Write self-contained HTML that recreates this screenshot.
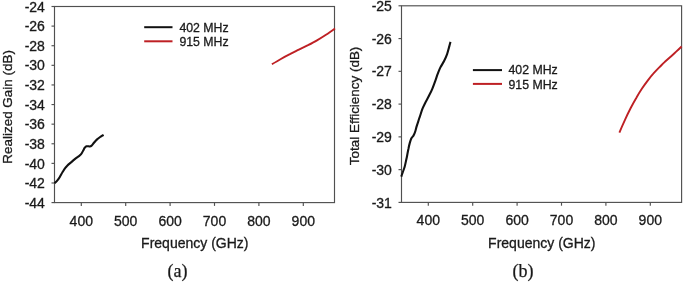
<!DOCTYPE html>
<html lang="en"><head><meta charset="utf-8"><title>Realized gain and total efficiency</title>
<style>
html,body{margin:0;padding:0;background:#fff;}
body{width:685px;height:282px;overflow:hidden;}
svg{display:block;}
.t{font-family:"Liberation Sans",Arial,sans-serif;fill:#1a1a1a;stroke:#1a1a1a;stroke-width:0.3px;}
.c{font-family:"Liberation Serif","Times New Roman",serif;fill:#1a1a1a;stroke:#1a1a1a;stroke-width:0.25px;}
</style></head><body>
<svg width="685" height="282" viewBox="0 0 685 282">
<rect width="685" height="282" fill="#fff"/>
<g>
<rect x="54.5" y="6.5" width="280.0" height="196.1" fill="none" stroke="#505050" stroke-width="1.15"/>
<line x1="51.5" x2="54.5" y1="6.50" y2="6.50" stroke="#505050" stroke-width="1.15"/>
<text class="t" x="44.9" y="11.65" font-size="14" text-anchor="end">-24</text>
<line x1="51.5" x2="54.5" y1="26.11" y2="26.11" stroke="#505050" stroke-width="1.15"/>
<text class="t" x="44.9" y="31.26" font-size="14" text-anchor="end">-26</text>
<line x1="51.5" x2="54.5" y1="45.72" y2="45.72" stroke="#505050" stroke-width="1.15"/>
<text class="t" x="44.9" y="50.87" font-size="14" text-anchor="end">-28</text>
<line x1="51.5" x2="54.5" y1="65.33" y2="65.33" stroke="#505050" stroke-width="1.15"/>
<text class="t" x="44.9" y="70.48" font-size="14" text-anchor="end">-30</text>
<line x1="51.5" x2="54.5" y1="84.94" y2="84.94" stroke="#505050" stroke-width="1.15"/>
<text class="t" x="44.9" y="90.09" font-size="14" text-anchor="end">-32</text>
<line x1="51.5" x2="54.5" y1="104.55" y2="104.55" stroke="#505050" stroke-width="1.15"/>
<text class="t" x="44.9" y="109.70" font-size="14" text-anchor="end">-34</text>
<line x1="51.5" x2="54.5" y1="124.16" y2="124.16" stroke="#505050" stroke-width="1.15"/>
<text class="t" x="44.9" y="129.31" font-size="14" text-anchor="end">-36</text>
<line x1="51.5" x2="54.5" y1="143.77" y2="143.77" stroke="#505050" stroke-width="1.15"/>
<text class="t" x="44.9" y="148.92" font-size="14" text-anchor="end">-38</text>
<line x1="51.5" x2="54.5" y1="163.38" y2="163.38" stroke="#505050" stroke-width="1.15"/>
<text class="t" x="44.9" y="168.53" font-size="14" text-anchor="end">-40</text>
<line x1="51.5" x2="54.5" y1="182.99" y2="182.99" stroke="#505050" stroke-width="1.15"/>
<text class="t" x="44.9" y="188.14" font-size="14" text-anchor="end">-42</text>
<line x1="51.5" x2="54.5" y1="202.60" y2="202.60" stroke="#505050" stroke-width="1.15"/>
<text class="t" x="44.9" y="207.75" font-size="14" text-anchor="end">-44</text>
<line x1="81.3" x2="81.3" y1="202.6" y2="205.9" stroke="#505050" stroke-width="1.15"/>
<text class="t" x="81.3" y="225.8" font-size="14" text-anchor="middle">400</text>
<line x1="125.7" x2="125.7" y1="202.6" y2="205.9" stroke="#505050" stroke-width="1.15"/>
<text class="t" x="125.7" y="225.8" font-size="14" text-anchor="middle">500</text>
<line x1="170.1" x2="170.1" y1="202.6" y2="205.9" stroke="#505050" stroke-width="1.15"/>
<text class="t" x="170.1" y="225.8" font-size="14" text-anchor="middle">600</text>
<line x1="214.5" x2="214.5" y1="202.6" y2="205.9" stroke="#505050" stroke-width="1.15"/>
<text class="t" x="214.5" y="225.8" font-size="14" text-anchor="middle">700</text>
<line x1="258.9" x2="258.9" y1="202.6" y2="205.9" stroke="#505050" stroke-width="1.15"/>
<text class="t" x="258.9" y="225.8" font-size="14" text-anchor="middle">800</text>
<line x1="303.3" x2="303.3" y1="202.6" y2="205.9" stroke="#505050" stroke-width="1.15"/>
<text class="t" x="303.3" y="225.8" font-size="14" text-anchor="middle">900</text>
<text class="t" x="194.8" y="247.5" font-size="14" text-anchor="middle">Frequency (GHz)</text>
<text class="t" transform="translate(11.5,106.9) rotate(-90)" font-size="13.45" text-anchor="middle">Realized Gain (dB)</text>
<path d="M54.5,183.3C55.0,182.9 56.1,182.0 57.0,180.9C57.9,179.8 58.9,178.5 59.8,177.0C60.7,175.5 61.6,173.6 62.6,172.0C63.6,170.4 64.5,168.9 65.5,167.7C66.5,166.5 67.2,165.6 68.3,164.6C69.4,163.6 70.7,162.6 71.9,161.6C73.1,160.6 74.2,159.5 75.4,158.6C76.6,157.7 78.0,156.8 79.0,156.1C80.0,155.4 80.4,155.1 81.1,154.2C81.8,153.3 82.5,151.8 83.1,150.7C83.7,149.6 84.3,148.4 84.8,147.7C85.3,147.0 85.7,146.6 86.2,146.3C86.7,146.1 87.3,146.2 87.9,146.2C88.5,146.2 89.1,146.6 89.7,146.5C90.3,146.4 90.9,146.2 91.6,145.6C92.3,145.0 93.1,143.7 94.0,142.7C94.9,141.7 95.7,140.6 96.8,139.6C97.9,138.6 99.3,137.6 100.4,136.8C101.5,136.0 103.1,135.2 103.6,134.9" fill="none" stroke="#111" stroke-width="2.1" stroke-linecap="butt" stroke-linejoin="round"/>
<path d="M271.9,64.3C273.4,63.4 277.9,60.7 280.9,59.0C283.9,57.3 286.9,55.7 289.9,54.2C292.9,52.6 295.9,51.2 298.9,49.7C301.9,48.2 305.0,46.7 308.0,45.2C311.0,43.6 314.0,42.0 317.0,40.3C320.0,38.6 323.0,36.8 326.0,34.8C329.0,32.8 333.5,29.5 335.0,28.4" fill="none" stroke="#be2024" stroke-width="1.9" stroke-linecap="butt" stroke-linejoin="round"/>
<line x1="144.2" x2="172.5" y1="27.2" y2="27.2" stroke="#111" stroke-width="2"/>
<line x1="144.2" x2="172.5" y1="41.3" y2="41.3" stroke="#be2024" stroke-width="2"/>
<text class="t" x="179.4" y="31.8" font-size="12.3">402 MHz</text>
<text class="t" x="179.4" y="45.9" font-size="12.3">915 MHz</text>
<text class="c" x="177.4" y="277.3" font-size="18" text-anchor="middle">(a)</text>
</g>
<g>
<rect x="401.5" y="5.8" width="280.1" height="196.6" fill="none" stroke="#505050" stroke-width="1.15"/>
<line x1="398.5" x2="401.5" y1="5.80" y2="5.80" stroke="#505050" stroke-width="1.15"/>
<text class="t" x="391.9" y="10.95" font-size="14" text-anchor="end">-25</text>
<line x1="398.5" x2="401.5" y1="38.57" y2="38.57" stroke="#505050" stroke-width="1.15"/>
<text class="t" x="391.9" y="43.72" font-size="14" text-anchor="end">-26</text>
<line x1="398.5" x2="401.5" y1="71.33" y2="71.33" stroke="#505050" stroke-width="1.15"/>
<text class="t" x="391.9" y="76.48" font-size="14" text-anchor="end">-27</text>
<line x1="398.5" x2="401.5" y1="104.10" y2="104.10" stroke="#505050" stroke-width="1.15"/>
<text class="t" x="391.9" y="109.25" font-size="14" text-anchor="end">-28</text>
<line x1="398.5" x2="401.5" y1="136.87" y2="136.87" stroke="#505050" stroke-width="1.15"/>
<text class="t" x="391.9" y="142.02" font-size="14" text-anchor="end">-29</text>
<line x1="398.5" x2="401.5" y1="169.63" y2="169.63" stroke="#505050" stroke-width="1.15"/>
<text class="t" x="391.9" y="174.78" font-size="14" text-anchor="end">-30</text>
<line x1="398.5" x2="401.5" y1="202.40" y2="202.40" stroke="#505050" stroke-width="1.15"/>
<text class="t" x="391.9" y="207.55" font-size="14" text-anchor="end">-31</text>
<line x1="428.3" x2="428.3" y1="202.4" y2="205.7" stroke="#505050" stroke-width="1.15"/>
<text class="t" x="428.3" y="224.9" font-size="14" text-anchor="middle">400</text>
<line x1="472.7" x2="472.7" y1="202.4" y2="205.7" stroke="#505050" stroke-width="1.15"/>
<text class="t" x="472.7" y="224.9" font-size="14" text-anchor="middle">500</text>
<line x1="517.1" x2="517.1" y1="202.4" y2="205.7" stroke="#505050" stroke-width="1.15"/>
<text class="t" x="517.1" y="224.9" font-size="14" text-anchor="middle">600</text>
<line x1="561.5" x2="561.5" y1="202.4" y2="205.7" stroke="#505050" stroke-width="1.15"/>
<text class="t" x="561.5" y="224.9" font-size="14" text-anchor="middle">700</text>
<line x1="605.9" x2="605.9" y1="202.4" y2="205.7" stroke="#505050" stroke-width="1.15"/>
<text class="t" x="605.9" y="224.9" font-size="14" text-anchor="middle">800</text>
<line x1="650.3" x2="650.3" y1="202.4" y2="205.7" stroke="#505050" stroke-width="1.15"/>
<text class="t" x="650.3" y="224.9" font-size="14" text-anchor="middle">900</text>
<text class="t" x="541.8" y="247.5" font-size="14" text-anchor="middle">Frequency (GHz)</text>
<text class="t" transform="translate(359.2,105.9) rotate(-90)" font-size="13.45" text-anchor="middle">Total Efficiency (dB)</text>
<path d="M401.3,176.6C401.5,175.9 402.1,174.1 402.7,172.5C403.2,170.9 404.1,168.8 404.6,167.0C405.1,165.2 405.5,163.3 405.9,161.4C406.3,159.5 406.7,157.8 407.1,155.7C407.5,153.6 407.9,151.1 408.4,149.0C408.8,146.9 409.3,144.7 409.8,142.9C410.3,141.2 410.7,139.8 411.3,138.5C411.9,137.2 412.9,136.7 413.6,135.4C414.3,134.2 414.9,132.6 415.4,131.0C415.9,129.4 416.1,128.2 416.8,125.9C417.5,123.6 418.7,120.2 419.6,117.3C420.6,114.4 421.5,111.2 422.5,108.7C423.5,106.2 424.3,104.7 425.4,102.5C426.5,100.3 428.0,97.6 429.2,95.3C430.4,93.0 431.3,91.2 432.3,88.8C433.3,86.4 434.4,83.2 435.3,80.8C436.2,78.3 436.8,76.3 437.6,74.1C438.5,71.9 439.3,69.6 440.4,67.4C441.5,65.2 443.1,63.0 444.2,60.8C445.3,58.6 446.3,56.3 447.1,54.1C447.9,51.9 448.4,49.5 449.0,47.4C449.6,45.3 450.2,42.7 450.5,41.8" fill="none" stroke="#111" stroke-width="2.1" stroke-linecap="butt" stroke-linejoin="round"/>
<path d="M619.4,132.7C620.3,130.5 623.2,123.8 625.1,119.7C626.9,115.6 628.8,111.7 630.7,108.0C632.6,104.3 634.5,100.9 636.4,97.7C638.2,94.4 640.1,91.4 642.0,88.5C643.9,85.7 645.8,83.1 647.7,80.6C649.6,78.1 651.4,75.8 653.3,73.7C655.2,71.5 657.1,69.5 659.0,67.6C660.9,65.7 662.8,63.9 664.6,62.1C666.5,60.4 668.4,58.7 670.3,57.0C672.2,55.3 674.1,53.7 675.9,51.9C677.8,50.2 680.7,47.4 681.6,46.5" fill="none" stroke="#be2024" stroke-width="1.9" stroke-linecap="butt" stroke-linejoin="round"/>
<line x1="472.9" x2="502" y1="70.1" y2="70.1" stroke="#111" stroke-width="2"/>
<line x1="472.9" x2="502" y1="83.9" y2="83.9" stroke="#be2024" stroke-width="2"/>
<text class="t" x="508.5" y="74.4" font-size="12.3">402 MHz</text>
<text class="t" x="508.5" y="88.6" font-size="12.3">915 MHz</text>
<text class="c" x="523.0" y="277.2" font-size="18" text-anchor="middle">(b)</text>
</g>
</svg>
</body></html>
